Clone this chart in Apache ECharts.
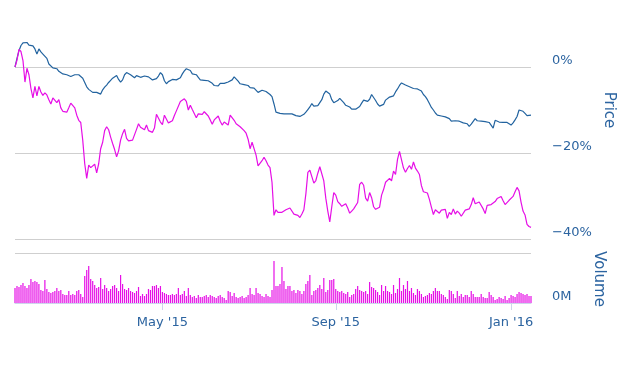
<!DOCTYPE html>
<html>
<head>
<meta charset="utf-8">
<script src="https://cdn.jsdelivr.net/npm/echarts@6/dist/echarts.min.js"></script>
<style>
html,body{margin:0;padding:0;background:#fff;}
#chart{width:630px;height:387px;}
</style>
</head>
<body>
<div id="chart"></div>
<script>
// First trading day shown; categories are consecutive weekdays
const startDate = '2015-01-19';
const labelMonths = [0, 4, 8]; // Jan, May, Sep
const monthNames = ['Jan','Feb','Mar','Apr','May','Jun','Jul','Aug','Sep','Oct','Nov','Dec'];
const priceTicks = [-40, -20, 0];

// Blue series, % change
const bluePct = [
0,2.0,3.8,5.0,5.6,6.0,5.7,5.1,5.0,4.9,
4.2,3.0,4.2,3.5,3.0,3.3,2.0,0.7,0.3,-0.2,
-0.1,-0.4,-1.0,-1.4,-1.6,-1.7,-1.8,-2.0,-2.2,-2.0,
-1.8,-1.5,-1.8,-2.2,-2.6,-3.6,-4.6,-5.2,-5.5,-5.9,
-6.1,-5.9,-5.8,-6.3,-5.3,-4.7,-4.2,-3.6,-3.1,-2.6,
-2.2,-2.0,-2.9,-3.5,-3.0,-1.8,-1.3,-1.7,-1.8,-2.1,
-2.5,-2.0,-2.4,-2.4,-2.3,-2.1,-2.4,-2.3,-2.5,-3.0,
-3.4,-2.7,-2.1,-1.3,-1.8,-3.2,-3.9,-3.4,-3.0,-2.9,
-3.3,-3.0,-3.2,-2.5,-1.6,-0.9,-0.4,-0.2,-0.8,-1.6,
-1.8,-1.8,-2.4,-3.0,-3.1,-3.1,-3.0,-3.2,-3.4,-3.8,
-4.3,-4.6,-4.4,-3.8,-3.8,-3.8,-3.8,-3.5,-3.7,-3.0,
-2.3,-2.6,-3.3,-3.9,-4.3,-4.1,-3.8,-4.3,-4.8,-4.9,
-4.9,-5.2,-5.9,-5.6,-5.4,-5.5,-5.7,-6.0,-6.4,-6.9,
-8.6,-10.5,-10.6,-10.8,-11.2,-10.9,-10.7,-10.9,-10.8,-10.9,
-11.1,-11.3,-11.1,-11.5,-11.7,-11.0,-10.5,-9.9,-9.3,-8.5,
-9.1,-9.2,-9.0,-8.7,-7.6,-6.3,-5.6,-5.6,-6.3,-7.6,
-8.3,-8.2,-7.8,-7.3,-7.7,-8.3,-8.9,-8.8,-9.3,-9.8,
-9.6,-9.8,-10.0,-9.2,-8.4,-7.7,-7.4,-8.0,-7.5,-6.4,
-6.8,-7.8,-8.6,-9.1,-9.4,-8.7,-7.7,-7.4,-7.0,-7.3,
-6.7,-5.8,-5.1,-4.3,-3.7,-3.8,-4.2,-4.5,-4.6,-5.0,
-5.0,-5.2,-5.1,-5.1,-5.6,-6.4,-6.9,-7.6,-8.5,-9.4,
-10.0,-10.7,-11.2,-11.4,-11.4,-11.5,-11.6,-11.5,-12.0,-12.6,
-12.3,-12.5,-12.6,-12.6,-12.8,-13.0,-13.4,-13.2,-13.8,-13.3,
-13.4,-12.0,-12.5,-12.4,-12.6,-12.5,-12.7,-12.5,-12.9,-12.6,
-14.2,-12.4,-12.7,-12.8,-12.9,-12.9,-12.9,-12.9,-13.2,-13.5,
-13.0,-12.3,-11.5,-10.0,-9.7,-10.3,-10.8,-11.3,-11.2,-11.2
];

// Magenta series, % change
const magentaPct = [
0,1.6,4.1,3.6,1.5,-3.5,-0.3,-1.8,-5.0,-7.2,
-4.5,-6.7,-4.5,-5.8,-6.6,-6.0,-6.5,-7.6,-8.6,-7.2,
-7.4,-8.3,-7.6,-9.5,-10.3,-10.7,-10.5,-9.5,-8.4,-8.6,
-9.5,-11.2,-12.4,-12.9,-17.0,-22.5,-25.9,-22.8,-23.4,-23.4,
-22.6,-24.6,-22.5,-19.0,-17.5,-14.8,-13.9,-14.6,-16.3,-17.8,
-19.2,-20.9,-19.5,-17.0,-15.5,-14.5,-16.6,-17.2,-17.5,-17.0,
-17.0,-14.5,-13.2,-14.0,-14.4,-14.6,-13.5,-14.8,-15.0,-15.2,
-14.2,-11.0,-11.4,-12.8,-13.4,-11.2,-11.2,-13.0,-13.0,-12.5,
-11.3,-10.2,-10.5,-8.0,-7.9,-7.4,-8.0,-10.0,-8.9,-9.9,
-10.2,-11.8,-10.9,-11.2,-11.0,-10.4,-10.3,-11.4,-12.3,-13.3,
-12.3,-12.4,-11.4,-12.6,-13.5,-12.8,-13.2,-13.5,-11.2,-11.0,
-12.4,-13.2,-13.5,-13.9,-14.3,-14.8,-15.4,-16.8,-19.0,-17.5,
-17.8,-20.5,-23.0,-22.8,-21.8,-21.0,-21.8,-22.8,-23.4,-26.8,
-34.5,-33.2,-33.8,-34.2,-33.8,-33.6,-33.2,-33.0,-32.8,-33.2,
-34.2,-34.4,-34.5,-35.0,-34.2,-33.2,-29.5,-24.5,-24.0,-25.5,
-27.0,-26.4,-24.7,-23.2,-22.9,-26.5,-30.5,-33.5,-36.0,-32.5,
-29.2,-29.8,-31.3,-31.8,-32.4,-32.3,-31.8,-32.8,-34.0,-33.5,
-33.0,-32.9,-31.5,-27.3,-26.8,-27.5,-30.5,-31.2,-29.2,-30.4,
-32.5,-33.1,-33.0,-32.6,-29.8,-28.5,-26.8,-26.5,-25.9,-26.5,
-24.2,-25.0,-21.5,-19.6,-19.3,-23.5,-24.5,-23.6,-22.9,-23.8,
-22.1,-23.5,-24.2,-25.0,-27.6,-29.0,-29.0,-29.3,-30.8,-32.6,
-34.3,-33.2,-33.6,-34.0,-33.3,-33.5,-33.1,-35.2,-33.8,-34.3,
-33.0,-34.2,-33.5,-34.0,-34.7,-34.3,-33.3,-33.6,-33.0,-32.0,
-30.4,-31.8,-32.0,-31.4,-31.7,-33.0,-34.1,-32.2,-32.5,-32.0,
-31.8,-31.3,-30.6,-31.0,-30.1,-31.1,-32.0,-32.3,-31.0,-30.7,
-30.1,-29.0,-28.0,-28.8,-31.4,-33.5,-34.4,-36.6,-37.1,-37.3
];

// Volume, millions
const volumeM = [
15,17,16,18,20,17,15,18,24,21,
22,21,19,13,12,23,14,11,10,11,
12,15,12,13,9,8,8,12,8,9,
8,12,13,9,6,27,33,37,24,22,
18,15,16,25,14,18,15,12,14,17,
18,15,12,28,19,14,13,15,12,11,
10,12,16,7,9,7,9,14,13,17,
17,18,15,17,11,10,9,8,8,9,
8,9,15,8,9,12,7,15,8,6,
7,5,8,6,6,7,8,6,8,7,
6,5,7,8,6,5,3,12,11,7,
10,6,5,6,7,5,6,8,15,9,
8,15,10,9,7,6,9,7,6,13,
42,17,17,19,36,22,14,17,17,12,
13,10,13,12,9,12,19,22,28,8,
12,13,15,18,14,25,11,13,23,23,
24,14,12,11,12,10,9,11,6,8,
9,14,17,13,12,11,12,9,21,16,
15,13,11,8,18,12,17,12,11,9,
18,10,14,25,12,18,14,22,12,15,
10,8,14,12,9,6,7,8,10,9,
12,15,12,12,9,8,6,4,13,12,
9,5,12,7,9,6,8,8,6,12,
9,6,6,6,9,6,5,5,11,8,
6,3,4,6,5,4,7,3,5,8,
7,6,9,11,10,9,8,9,7,7
];

// Build weekday categories
function buildDates(start, n) {
  const out = [];
  const d = new Date(start + 'T00:00:00Z');
  while (out.length < n) {
    const wd = d.getUTCDay();
    if (wd !== 0 && wd !== 6) {
      out.push(d.toISOString().slice(0, 10));
    }
    d.setUTCDate(d.getUTCDate() + 1);
  }
  return out;
}
const dates = buildDates(startDate, bluePct.length);

function isLabelDay(idx) {
  const m = +dates[idx].slice(5, 7) - 1;
  if (labelMonths.indexOf(m) < 0) return false;
  if (idx === 0) return false;
  const pm = +dates[idx - 1].slice(5, 7) - 1;
  return pm !== m;
}
function fmtDate(v) {
  const m = +v.slice(5, 7) - 1;
  return monthNames[m] + " '" + v.slice(2, 4);
}
function fmtPct(v) {
  if (v < 0) return '\u2212' + Math.abs(v) + '%';
  return v + '%';
}

const FONT = 'DejaVu Sans';
const TXT = '#2c64a0';
const BLUE = '#22639f';
const MAG = '#e60fe6';
const GRID = '#cfcfcf';

const chart = echarts.init(document.getElementById('chart'), null, {renderer: 'canvas'});
chart.setOption({
  animation: false,
  backgroundColor: '#ffffff',
  grid: [
    {left: 15, right: 99, top: 67, height: 172},
    {left: 15, right: 99, top: 253, height: 50}
  ],
  xAxis: [
    {
      type: 'category', gridIndex: 0, data: dates, boundaryGap: false,
      show: false
    },
    {
      type: 'category', gridIndex: 1, data: dates, boundaryGap: false,
      axisLine: {show: true, lineStyle: {color: '#ccd6eb', width: 1}},
      axisTick: {show: true, length: 7, lineStyle: {color: '#ccd6eb'},
        interval: function (idx) { return isLabelDay(idx); }},
      axisLabel: {
        interval: function (idx) { return isLabelDay(idx); },
        formatter: fmtDate, color: TXT, fontFamily: FONT, fontSize: 13, margin: 13
      },
      splitLine: {show: false}
    }
  ],
  yAxis: [
    {
      type: 'value', gridIndex: 0, position: 'right',
      min: priceTicks[0], max: priceTicks[priceTicks.length - 1], interval: 20,
      axisLine: {show: false}, axisTick: {show: false},
      axisLabel: {
        formatter: fmtPct, color: TXT, fontFamily: FONT, fontSize: 13,
        align: 'left', verticalAlign: 'bottom', margin: 21
      },
      splitLine: {show: true, lineStyle: {color: GRID, width: 1}}
    },
    {
      type: 'value', gridIndex: 1, position: 'right',
      min: 0, max: 50, interval: 50,
      axisLine: {show: false}, axisTick: {show: false},
      axisLabel: {
        formatter: function (v) { return v === 0 ? '0M' : ''; },
        color: TXT, fontFamily: FONT, fontSize: 13,
        align: 'left', verticalAlign: 'bottom', margin: 21
      },
      splitLine: {show: true, lineStyle: {color: GRID, width: 1}}
    }
  ],
  series: [
    {
      type: 'line', name: 'Blue', xAxisIndex: 0, yAxisIndex: 0, data: bluePct,
      showSymbol: false, clip: false,
      lineStyle: {color: BLUE, width: 1.2}, itemStyle: {color: BLUE}
    },
    {
      type: 'line', name: 'Magenta', xAxisIndex: 0, yAxisIndex: 0, data: magentaPct,
      showSymbol: false, clip: false,
      lineStyle: {color: MAG, width: 1.2}, itemStyle: {color: MAG}
    },
    {
      type: 'bar', name: 'Volume', xAxisIndex: 1, yAxisIndex: 1, data: volumeM,
      barWidth: 1.2, itemStyle: {color: MAG}
    }
  ],
  graphic: [
    {
      type: 'text', x: 609, y: 110, rotation: -Math.PI / 2,
      style: {text: 'Price', fill: TXT, font: '15px "DejaVu Sans"', align: 'center', verticalAlign: 'middle'}
    },
    {
      type: 'text', x: 599, y: 279, rotation: -Math.PI / 2,
      style: {text: 'Volume', fill: TXT, font: '15px "DejaVu Sans"', align: 'center', verticalAlign: 'middle'}
    }
  ]
});
</script>
</body>
</html>
